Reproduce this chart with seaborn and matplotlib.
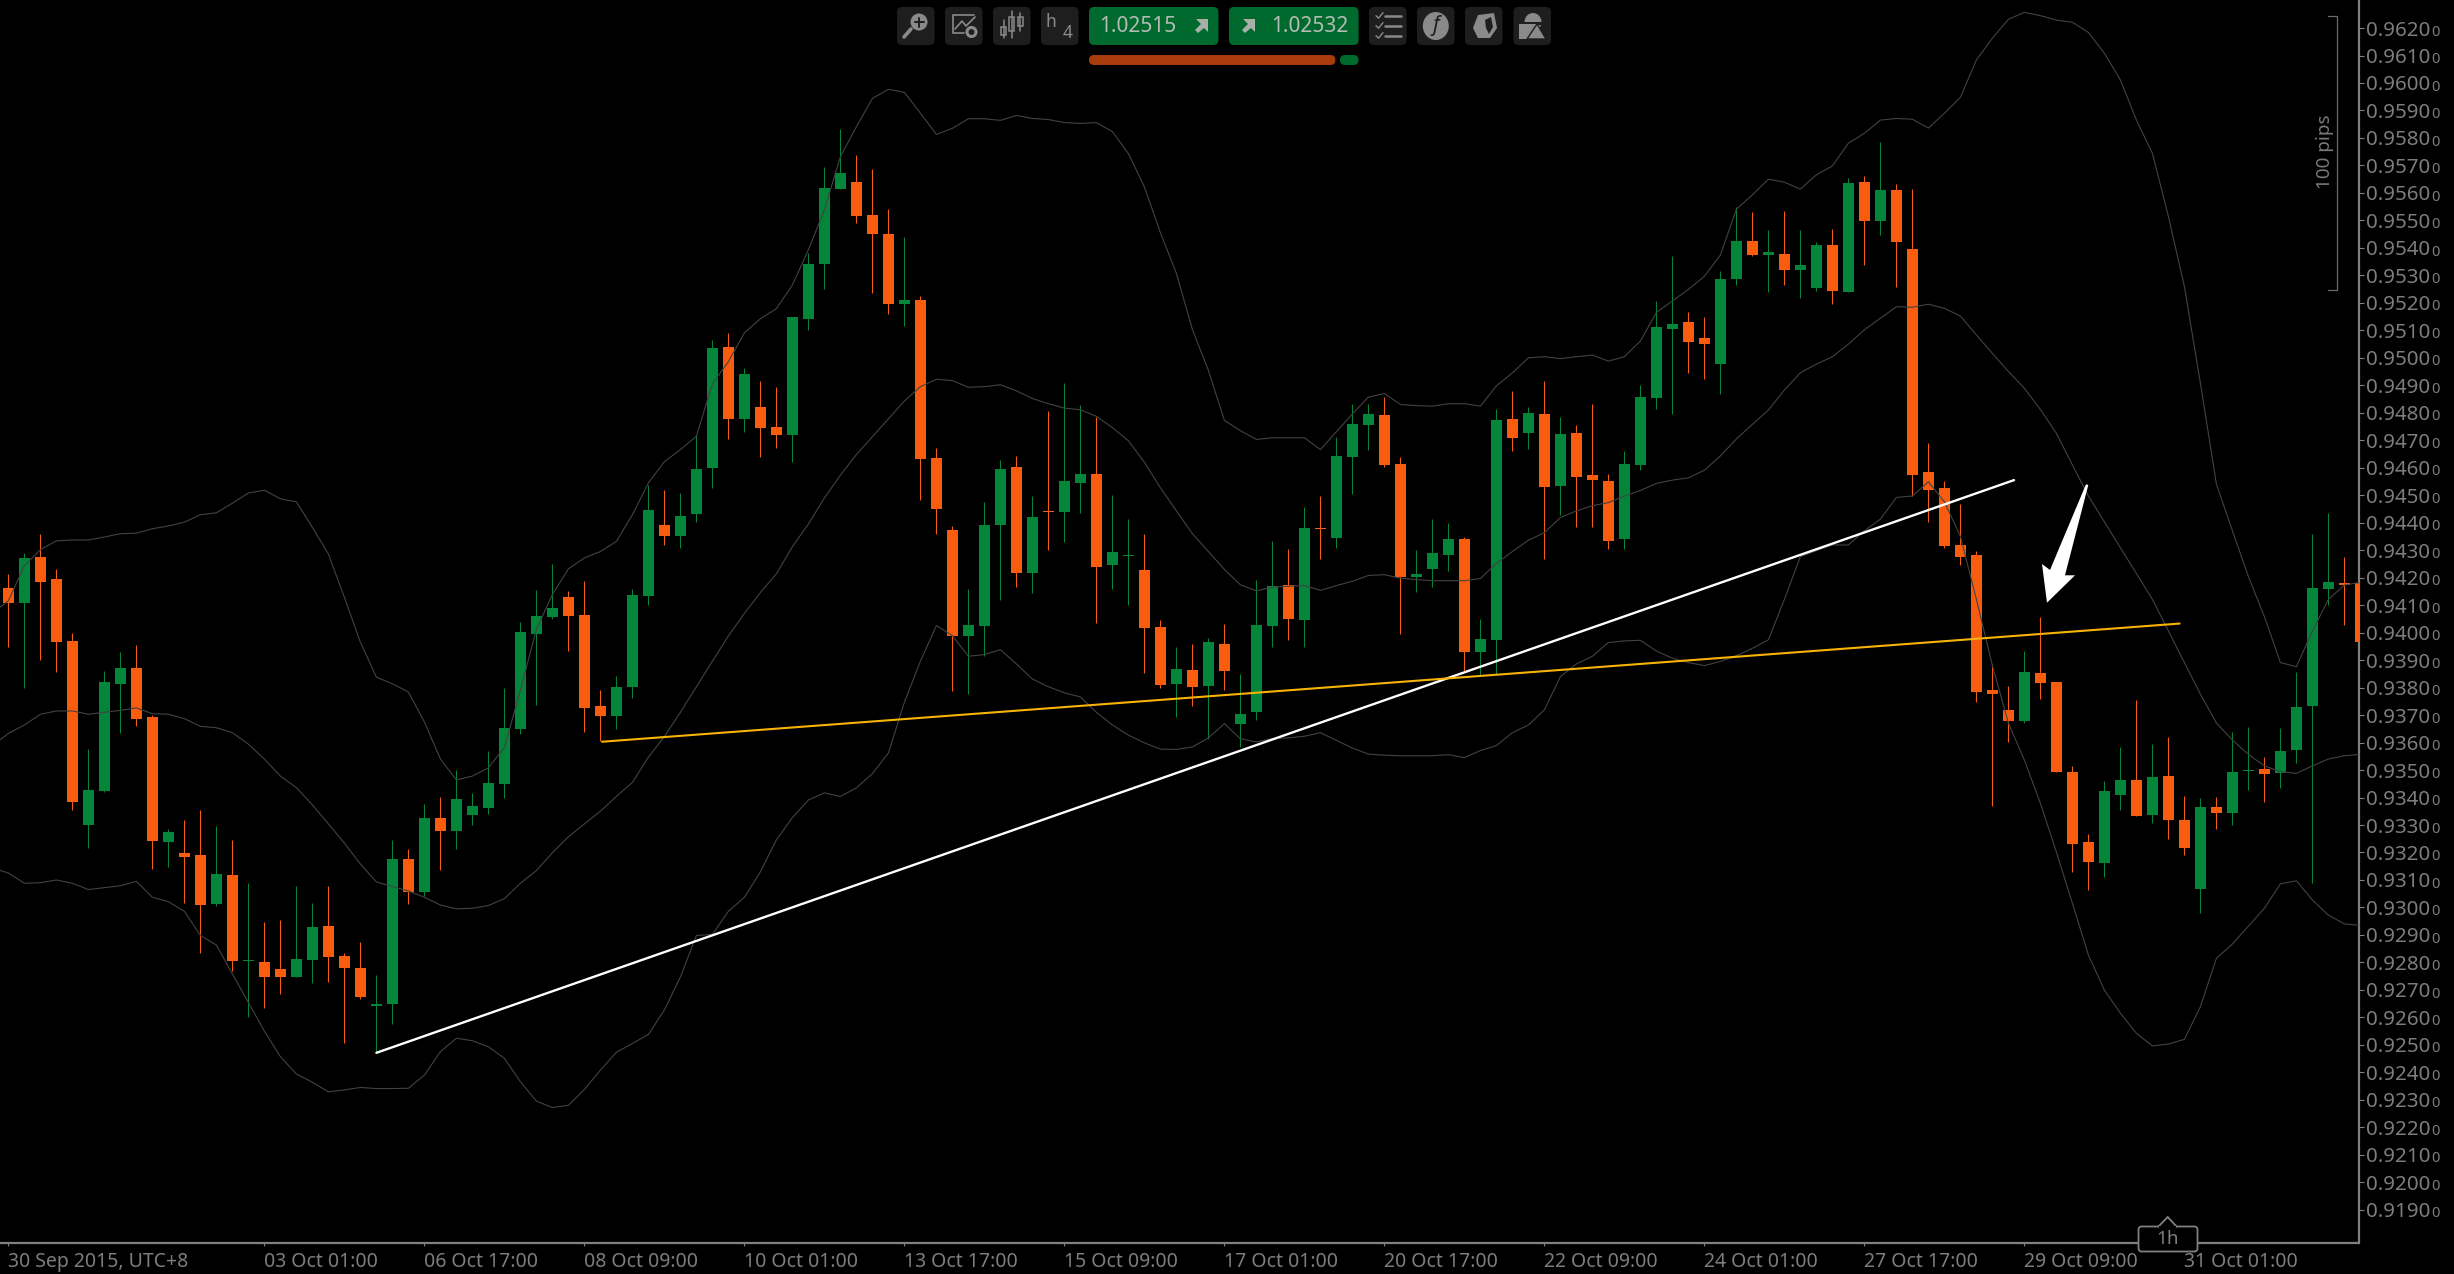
import pandas as pd
import seaborn as sns
import matplotlib.pyplot as plt
from matplotlib.patches import FancyBboxPatch, Circle, Ellipse, Polygon, Rectangle

# quotes in points (1e-5), one entry per 4h bar
opens = [94163, 94107, 94274, 94195, 93970, 93299, 93424, 93812, 93870, 93694,
         93239, 93197, 93190, 93011, 93118, 92805, 92800, 92775, 92747, 92809,
         92932, 92823, 92779, 92640, 92649, 93178, 93055, 93325, 93278, 93336,
         93362, 93448, 93650, 93995, 94056, 94130, 94063, 93733, 93696, 93803,
         94132, 94392, 94350, 94432, 94599, 95040, 94778, 94822, 94747, 94720,
         95142, 95342, 95615, 95639, 95520, 95450, 95195, 95210, 94635, 94373,
         93987, 94024, 94391, 94603, 94217, 94443, 94438, 94544, 94577, 94247,
         94278, 94228, 94020, 93812, 93864, 93805, 93959, 93667, 93710, 94024,
         94172, 94046, 94380, 94345, 94638, 94755, 94792, 94614, 94202, 94232,
         94282, 94341, 93929, 93974, 94778, 94726, 94796, 94533, 94726, 94573,
         94551, 94340, 94609, 94854, 95104, 95130, 95071, 94977, 95286, 95424,
         95374, 95378, 95320, 95253, 95409, 95238, 95639, 95497, 95610, 95395,
         94584, 94526, 94319, 94281, 93791, 93717, 93678, 93853, 93820, 93492,
         93237, 93162, 93408, 93463, 93335, 93477, 93318, 93066, 93364, 93343,
         93496, 93502, 93488, 93573, 93732, 94158, 94179, 94179]
closes = [94107, 94272, 94183, 93965, 93383, 93427, 93819, 93870, 93684, 93241,
          93274, 93183, 93009, 93120, 92805, 92809, 92747, 92747, 92812, 92928,
          92819, 92779, 92675, 92649, 93178, 93055, 93325, 93278, 93394, 93369,
          93452, 93652, 94002, 94060, 94088, 94060, 93726, 93696, 93803, 94137,
          94446, 94350, 94425, 94594, 95035, 94778, 94940, 94745, 94720, 95149,
          95342, 95619, 95673, 95517, 95450, 95195, 95210, 94631, 94449, 93987,
          94028, 94391, 94596, 94217, 94421, 94440, 94551, 94577, 94239, 94293,
          94282, 94016, 93808, 93868, 93801, 93966, 93860, 93704, 94028, 94169,
          94050, 94380, 94377, 94642, 94759, 94796, 94611, 94202, 94213, 94289,
          94341, 93929, 93977, 94774, 94709, 94800, 94529, 94722, 94566, 94555,
          94334, 94614, 94858, 95113, 95123, 95056, 95050, 95286, 95424, 95374,
          95384, 95320, 95338, 95409, 95242, 95635, 95497, 95610, 95422, 94574,
          94520, 94315, 94275, 93784, 93776, 93678, 93855, 93816, 93492, 93231,
          93164, 93423, 93463, 93333, 93475, 93318, 93216, 93364, 93343, 93492,
          93500, 93486, 93569, 93728, 94162, 94183, 94175, 93966]
highs = [94214, 94290, 94360, 94232, 94000, 93575, 93861, 93928, 93954, 93701,
         93285, 93320, 93355, 93297, 93246, 93088, 92946, 92953, 93079, 93018,
         93079, 92833, 92874, 92754, 93246, 93213, 93376, 93401, 93501, 93418,
         93568, 93798, 94040, 94156, 94251, 94151, 94188, 93793, 93842, 94160,
         94538, 94518, 94508, 94720, 95063, 95091, 94963, 94914, 94894, 95149,
         95381, 95695, 95832, 95737, 95687, 95541, 95439, 95225, 94672, 94388,
         94159, 94475, 94627, 94642, 94497, 94805, 94908, 94828, 94783, 94501,
         94414, 94358, 94046, 93948, 93959, 93981, 94031, 93849, 94191, 94334,
         94304, 94456, 94497, 94711, 94833, 94833, 94857, 94638, 94300, 94414,
         94399, 94347, 94050, 94813, 94880, 94820, 94915, 94785, 94755, 94831,
         94577, 94660, 94900, 95207, 95370, 95167, 95150, 95315, 95549, 95529,
         95466, 95535, 95466, 95422, 95468, 95654, 95662, 95786, 95633, 95614,
         94689, 94551, 94469, 94298, 93887, 93807, 93933, 94056, 93822, 93515,
         93266, 93460, 93584, 93755, 93594, 93619, 93404, 93400, 93402, 93638,
         93657, 93548, 93653, 93855, 94359, 94434, 94275, 94250]
lows = [93947, 93800, 93900, 93856, 93353, 93216, 93420, 93633, 93659, 93141,
        93146, 93018, 92833, 93007, 92770, 92601, 92633, 92684, 92747, 92724,
        92728, 92505, 92666, 92471, 92575, 93014, 93042, 93137, 93211, 93299,
        93339, 93397, 93631, 93735, 94049, 93933, 93640, 93606, 93650, 93761,
        94100, 94318, 94309, 94404, 94525, 94706, 94731, 94638, 94671, 94622,
        95100, 95251, 95615, 95491, 95236, 95160, 95116, 94482, 94358, 93788,
        93777, 93914, 94119, 94165, 94145, 94300, 94330, 94436, 94035, 94159,
        94100, 93853, 93797, 93693, 93732, 93614, 93792, 93584, 93682, 93948,
        93974, 93948, 94267, 94308, 94505, 94664, 94603, 93994, 94148, 94165,
        94224, 93859, 93846, 93849, 94661, 94668, 94267, 94429, 94384, 94384,
        94304, 94306, 94591, 94814, 94795, 94946, 94923, 94868, 95265, 95372,
        95238, 95265, 95217, 95244, 95196, 95238, 95338, 95447, 95257, 94497,
        94403, 94309, 94246, 93749, 93369, 93603, 93671, 93757, 93492, 93128,
        93064, 93109, 93354, 93333, 93308, 93249, 93191, 92980, 93285, 93300,
        93427, 93383, 93433, 93525, 93089, 94100, 94027, 93950]

# bollinger bands, these start one bar before the first candle (cut by the left edge)
upper = [94070, 94116, 94244, 94302, 94334, 94337, 94337, 94348, 94360, 94362, 94378,
         94388, 94402, 94429, 94436, 94471, 94508, 94518, 94487, 94476, 94383,
         94286, 94128, 93965, 93838, 93814, 93784, 93675, 93540, 93464, 93478,
         93508, 93582, 93791, 94012, 94139, 94232, 94272, 94295, 94332, 94429,
         94545, 94622, 94666, 94715, 94905, 94986, 95091, 95142, 95179, 95265,
         95393, 95539, 95732, 95841, 95944, 95977, 95966, 95890, 95813, 95835,
         95870, 95870, 95864, 95882, 95871, 95867, 95856, 95853, 95856, 95823,
         95743, 95622, 95455, 95307, 95103, 94954, 94772, 94735, 94703, 94709,
         94709, 94709, 94666, 94731, 94796, 94857, 94870, 94830, 94826, 94824,
         94833, 94833, 94824, 94898, 94945, 95000, 95004, 94997, 95004, 95010,
         94988, 95004, 95061, 95165, 95207, 95249, 95297, 95374, 95541, 95593,
         95650, 95639, 95614, 95666, 95698, 95781, 95817, 95865, 95871, 95868,
         95836, 95890, 95948, 96084, 96163, 96232, 96257, 96245, 96229, 96221,
         96184, 96108, 96011, 95865, 95744, 95514, 95259, 94907, 94540, 94371,
         94204, 94058, 93891, 93876, 94006, 94121, 94173, 94183]
middle = [93589, 93633, 93664, 93703, 93715, 93715, 93703, 93710, 93717, 93726, 93705,
          93703, 93687, 93659, 93654, 93636, 93594, 93540, 93478, 93436, 93373,
          93304, 93234, 93158, 93093, 93076, 93060, 93037, 93009, 92995, 92997,
          93007, 93032, 93088, 93134, 93199, 93257, 93304, 93350, 93404, 93455,
          93547, 93622, 93710, 93803, 93896, 93988, 94070, 94146, 94214, 94313,
          94395, 94490, 94573, 94648, 94713, 94778, 94843, 94895, 94922, 94917,
          94893, 94895, 94902, 94880, 94852, 94833, 94817, 94811, 94787, 94746,
          94698, 94620, 94527, 94443, 94360, 94295, 94230, 94174, 94152, 94165,
          94169, 94171, 94154, 94171, 94187, 94208, 94211, 94198, 94193, 94189,
          94189, 94189, 94197, 94252, 94295, 94336, 94364, 94419, 94443, 94462,
          94473, 94497, 94517, 94543, 94555, 94563, 94591, 94643, 94705, 94758,
          94810, 94883, 94946, 94977, 95004, 95050, 95102, 95144, 95186, 95184,
          95195, 95180, 95152, 95083, 95016, 94950, 94889, 94812, 94725, 94610,
          94497, 94403, 94309, 94215, 94121, 94006, 93891, 93776, 93671, 93609,
          93557, 93515, 93494, 93488, 93515, 93540, 93552, 93557]
lower = [93144, 93125, 93088, 93090, 93100, 93088, 93065, 93072, 93079, 93095, 93037,
         93021, 92986, 92898, 92863, 92758, 92654, 92550, 92457, 92394, 92364,
         92329, 92336, 92345, 92341, 92341, 92342, 92390, 92475, 92524, 92515,
         92493, 92451, 92366, 92295, 92272, 92280, 92338, 92408, 92473, 92505,
         92538, 92627, 92747, 92898, 92902, 92986, 93037, 93130, 93246, 93327,
         93391, 93417, 93404, 93435, 93487, 93562, 93747, 93896, 94026, 93989,
         93914, 93920, 93938, 93886, 93831, 93803, 93781, 93766, 93710, 93664,
         93627, 93599, 93576, 93575, 93584, 93617, 93669, 93614, 93602, 93614,
         93617, 93623, 93636, 93608, 93580, 93558, 93554, 93552, 93552, 93552,
         93556, 93545, 93571, 93589, 93636, 93664, 93719, 93840, 93886, 93914,
         93964, 93970, 93972, 93933, 93907, 93891, 93880, 93895, 93916, 93943,
         93974, 94121, 94277, 94298, 94319, 94319, 94371, 94413, 94492, 94497,
         94549, 94476, 94350, 94121, 93880, 93671, 93536, 93379, 93201, 93015,
         92827, 92699, 92615, 92542, 92496, 92503, 92520, 92639, 92815, 92867,
         92932, 92997, 93086, 93097, 93027, 92972, 92940, 92935]

# trend lines, bar number and price at both ends
white_line_bars = [23.0, 125.35]
white_line_prices = [92471, 94555]
gold_line_bars = [37.1, 135.7]
gold_line_prices = [93603, 94033]

price_ticks = [0.9620 - i * 0.001 for i in range(44)]
date_bars = [0, 16, 26, 36, 46, 56, 66, 76, 86, 96, 106, 116, 126, 136]
date_labels = ['30 Sep 2015, UTC+8', '03 Oct 01:00', '06 Oct 17:00', '08 Oct 09:00',
               '10 Oct 01:00', '13 Oct 17:00', '15 Oct 09:00', '17 Oct 01:00',
               '20 Oct 17:00', '22 Oct 09:00', '24 Oct 01:00', '27 Oct 17:00',
               '29 Oct 09:00', '31 Oct 01:00']
bid_text = '1.02515'
ask_text = '1.02532'

UP = '#03853a'
DOWN = '#f85c0e'
BAND = '#424242'
AXIS = '#808080'
LABEL = '#7d7d7d'

sns.set_theme(style='dark', rc={'axes.facecolor': 'black', 'figure.facecolor': 'black',
                                'axes.grid': False})
plt.rcParams['font.family'] = ['Noto Sans', 'DejaVu Sans']

df = pd.DataFrame({'open': opens, 'close': closes, 'high': highs, 'low': lows}) / 100000
df['bar'] = range(len(df))
df['color'] = [UP if c >= o else DOWN for o, c in zip(df['open'], df['close'])]

bands = pd.DataFrame({'upper': upper, 'middle': middle, 'lower': lower}) / 100000
bands['bar'] = range(-1, len(bands) - 1)

fig = plt.figure(figsize=(24.54, 12.74), dpi=100)
ax = fig.add_axes([0, 31 / 1274, 2358.5 / 2454, 1243 / 1274])

ax.vlines(df['bar'], df['low'], df['high'], colors=df['color'], linewidth=0.72, zorder=2)
ax.bar(df['bar'], (df['close'] - df['open']).abs().clip(lower=0.00003),
       bottom=df[['open', 'close']].min(axis=1), width=0.69,
       color=df['color'], linewidth=0, zorder=3)

for col in ['upper', 'middle', 'lower']:
    sns.lineplot(data=bands, x='bar', y=col, ax=ax, color=BAND, linewidth=0.8,
                 errorbar=None, zorder=4)

ax.plot(white_line_bars, [p / 100000 for p in white_line_prices], color='white', linewidth=1.7, zorder=5)
ax.plot(gold_line_bars, [p / 100000 for p in gold_line_prices], color='#f9b208', linewidth=1.5, zorder=5)

ax.set_xlim(-0.525, 146.88)
ax.set_ylim(0.91779, 0.96302)
ax.set_xlabel('')
ax.set_ylabel('')

for side in ['top', 'left']:
    ax.spines[side].set_visible(False)
for side in ['right', 'bottom']:
    ax.spines[side].set_color(AXIS)
    ax.spines[side].set_linewidth(1.6)

ax.yaxis.tick_right()
ax.set_yticks(price_ticks)
ax.set_yticklabels([f'{p:.4f}' for p in price_ticks])
ax.tick_params(axis='y', right=True, length=3.6, width=0.8, color=AXIS, pad=1.5,
               labelsize=14.8, labelcolor=LABEL)
for p in price_ticks:
    ax.annotate('0', xy=(1, p), xycoords=ax.get_yaxis_transform(), xytext=(52.7, -5.5),
                textcoords='offset points', fontsize=10.5, color=LABEL,
                va='baseline', ha='left', annotation_clip=False)

ax.set_xticks(date_bars)
ax.set_xticklabels(date_labels, ha='left')
ax.tick_params(axis='x', bottom=True, length=2.2, width=0.8, color=AXIS, pad=4.2,
               labelsize=14, labelcolor=LABEL)

# everything below sits on top of the chart, in pixels of the screenshot
ui = fig.add_axes([0, 0, 1, 1], facecolor='none')
ui.set_xlim(0, 2454)
ui.set_ylim(1274, 0)
ui.axis('off')

# 100 pips bracket
ui.plot([2328, 2337.3, 2337.3, 2328], [16, 16, 290, 290], color='#6a6a6a', linewidth=0.9)
ui.text(2324.5, 152, '100 pips', rotation=90, color='#7a7a7a', fontsize=13.6, ha='center', va='center')

# hand drawn arrow
ui.add_patch(Polygon([(2086, 484.3), (2088.3, 485), (2065, 575.3), (2075, 575.3),
                      (2047, 602.7), (2042, 564), (2050, 570)],
                     closed=True, color='white', linewidth=0))

# timeframe tab
ui.add_patch(FancyBboxPatch((2141, 1229), 54, 20, boxstyle='round,pad=2.5,rounding_size=3',
                            facecolor='black', edgecolor=AXIS, linewidth=1.3, zorder=5))
ui.add_patch(Polygon([(2158, 1227), (2167.7, 1217), (2177, 1227)], closed=False, facecolor='black',
                     edgecolor=AXIS, linewidth=1.3, zorder=6))
ui.add_patch(Rectangle((2159, 1226), 17, 3, facecolor='black', linewidth=0, zorder=7))
ui.text(2167.7, 1239.5, '1h', color=LABEL, fontsize=13.5, ha='center', va='center', zorder=8)

# toolbar
ICON = '#8a8a8a'
BTN = '#1e1e1e'
GREEN = '#006a2e'


def button(x0, x1, color=BTN):
    ui.add_patch(FancyBboxPatch((x0 + 5, 12), x1 - x0 - 10, 28, boxstyle='round,pad=5,rounding_size=5',
                                facecolor=color, linewidth=0))


for x0 in [897, 945, 993, 1041, 1369, 1417, 1465, 1513.5]:
    button(x0, x0 + 37.5)
button(1089, 1218.4, GREEN)
button(1229, 1358.6, GREEN)

ui.text(1099.5, 26, bid_text, color='#b4bcb4', fontsize=15, ha='left', va='center')
ui.text(1349, 26, ask_text, color='#b4bcb4', fontsize=15, ha='right', va='center')
for xa in [1196, 1243]:
    ui.add_patch(Polygon([(xa + 12, 19), (xa + 12, 32), (xa + 8, 28), (xa + 2, 33), (xa - 1, 30),
                          (xa + 5, 24), (xa, 19)], closed=True, color='#a8b0a8', linewidth=0))

ui.add_patch(FancyBboxPatch((1089, 55), 246.4, 10, boxstyle='round,pad=0,rounding_size=5',
                            facecolor='#a83c0a', linewidth=0))
ui.add_patch(FancyBboxPatch((1340, 55), 18.6, 10, boxstyle='round,pad=0,rounding_size=5',
                            facecolor=GREEN, linewidth=0))

# magnifier
ui.plot([911, 904], [29, 37], color=ICON, linewidth=2.6, solid_capstyle='round')
ui.add_patch(Circle((919, 22), 8.5, color=ICON, linewidth=0))
ui.plot([914.5, 923.5], [22, 22], color='#1e1e1e', linewidth=1.4)
ui.plot([919, 919], [17.5, 26.5], color='#1e1e1e', linewidth=1.4)
# chart settings
ui.plot([974, 953, 953, 964], [15, 15, 33, 33], color=ICON, linewidth=1.2)
ui.plot([955, 962, 966, 975], [29, 21, 26, 17], color=ICON, linewidth=1.2)
ui.add_patch(Circle((971.5, 32), 4.5, facecolor='#1e1e1e', edgecolor=ICON, linewidth=2.2))
# candles icon
for xc, y0, y1, b0, b1 in [(1003.5, 20, 38, 27, 35), (1011.5, 11, 38, 17, 31), (1020, 13, 31, 17, 26)]:
    ui.plot([xc, xc], [y0, y1], color=ICON, linewidth=1.1)
    ui.add_patch(Rectangle((xc - 2.5, b0), 5, b1 - b0, facecolor='#1e1e1e', edgecolor=ICON, linewidth=1.1))
# timeframe button
ui.text(1051, 22, 'h', color=ICON, fontsize=12.5, ha='center', va='center')
ui.text(1067.5, 33, '4', color=ICON, fontsize=12.5, ha='center', va='center')
# checklist
for yc in [15.7, 25.7, 35.7]:
    ui.plot([1376, 1378.5, 1383], [yc, yc + 2.5, yc - 3], color=ICON, linewidth=1)
    ui.plot([1385, 1401], [yc, yc], color=ICON, linewidth=1.8)
# facebook
ui.add_patch(Ellipse((1435.8, 26), 26, 28, color=ICON, linewidth=0))
ui.text(1435.5, 26, 'f', color='#1e1e1e', fontsize=15, style='italic', ha='center', va='center')
# drop
ui.add_patch(Polygon([(1478, 15), (1494, 13), (1497, 28), (1490, 38), (1478, 38), (1473, 28)],
                     closed=True, color=ICON, linewidth=0))
ui.add_patch(Polygon([(1485, 20), (1491, 17), (1493, 27), (1489, 34), (1486, 28)],
                     closed=True, color='#1e1e1e', linewidth=0))
# profile
ui.add_patch(Ellipse((1533, 22), 17, 18, color=ICON, linewidth=0))
ui.add_patch(Rectangle((1519, 22), 30, 2.5, color='#1e1e1e', linewidth=0))
ui.add_patch(Rectangle((1519, 24), 17, 15, color=ICON, linewidth=0))
ui.add_patch(Polygon([(1527, 39), (1546, 39), (1537, 24)], closed=True, facecolor=ICON,
                     edgecolor='#1e1e1e', linewidth=1))

fig.savefig('out.png', dpi=100, facecolor='black')
